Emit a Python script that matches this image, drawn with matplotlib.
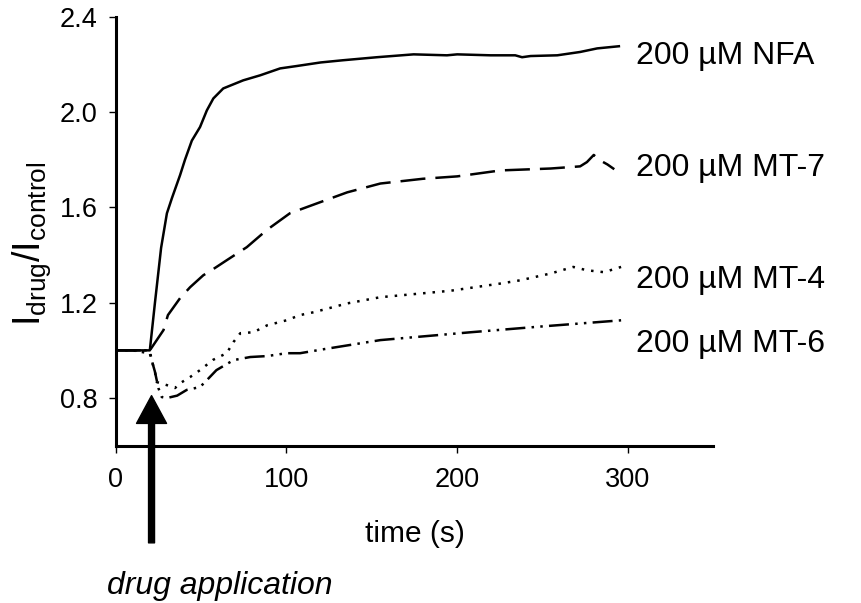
import numpy as np
import matplotlib
matplotlib.use('Agg')
import matplotlib.pyplot as plt

plt.rcParams['font.family'] = ['Liberation Sans', 'DejaVu Sans']
plt.rcParams['mathtext.fontset'] = 'custom'
plt.rcParams['mathtext.rm'] = 'Liberation Sans'
plt.rcParams['mathtext.it'] = 'Liberation Sans:italic'

# 数据
t_nfa = [0, 10, 20, 23, 26.6, 30, 33, 37.7, 40.6, 44.6, 49.4, 53.4, 57.2, 63, 74.7, 84.6,
         96.3, 106, 120, 132.7, 153, 174.5, 194, 200, 219.6, 234, 238, 243, 258.6, 272, 282, 294.7]
y_nfa = [1.0, 1.0, 1.0, 1.2, 1.43, 1.575, 1.64, 1.735, 1.80, 1.88, 1.937, 2.007, 2.057, 2.099, 2.133, 2.154,
         2.183, 2.193, 2.208, 2.217, 2.23, 2.242, 2.238, 2.242, 2.238, 2.238, 2.23, 2.235, 2.238, 2.252, 2.267, 2.276]

t_mt7 = [0, 10, 20, 28, 30.6, 37.7, 43.6, 51.3, 58, 65, 76.8, 88.5, 102, 118, 135.6, 155, 180, 200,
         225.4, 254.7, 272, 276, 280, 283, 288, 292]
y_mt7 = [1.0, 1.0, 1.0, 1.085, 1.148, 1.219, 1.265, 1.315, 1.345, 1.378, 1.433, 1.505, 1.575, 1.617, 1.663, 1.70, 1.72, 1.73,
         1.755, 1.763, 1.772, 1.79, 1.82, 1.80, 1.78, 1.76]

t_mt4 = [0, 10, 20, 21, 23, 24, 30, 34.8, 37.7, 43.6, 49.4, 57, 65, 69, 73, 80.7, 88.7, 100, 108,
         116, 135.6, 155, 196, 225, 237, 255, 268, 276, 286, 296]
y_mt4 = [1.0, 1.0, 1.0, 0.96, 0.91, 0.867, 0.854, 0.842, 0.862, 0.888, 0.917, 0.96, 0.988, 1.035, 1.072, 1.076, 1.105, 1.126, 1.148,
         1.16, 1.197, 1.223, 1.25, 1.28, 1.294, 1.323, 1.35, 1.336, 1.328, 1.35]

t_mt6 = [0, 10, 20, 23, 25, 27, 30, 36, 41.6, 49.4, 53.4, 59, 69, 78.8, 88.7, 100, 108, 122, 155,
         208, 249, 296]
y_mt6 = [1.0, 1.0, 0.987, 0.91, 0.842, 0.804, 0.80, 0.81, 0.834, 0.846, 0.875, 0.917, 0.959, 0.972, 0.976, 0.988, 0.988, 1.005, 1.043,
         1.076, 1.10, 1.126]

labels = ['200 µM NFA', '200 µM MT-7', '200 µM MT-4', '200 µM MT-6']
label_y = [2.20, 1.731, 1.261, 0.992]

xticks = [0, 100, 200, 300]
yticks = [0.8, 1.2, 1.6, 2.0, 2.4]

fig = plt.figure(figsize=(8.62, 6.03), dpi=100)
ax = fig.add_axes([0.1342, 0.2609, 0.6933, 0.7114])

lw = 1.8
ax.plot(t_nfa, y_nfa, color='black', lw=lw)
ax.plot(t_mt7, y_mt7, color='black', lw=lw, linestyle=(0, (10, 4)))
ax.plot(t_mt4, y_mt4, color='black', lw=lw, linestyle=(0, (1, 2.8)))
ax.plot(t_mt6, y_mt6, color='black', lw=lw, linestyle=(0, (8, 2.5, 1, 2.5, 1, 2.5)))

for lab, yy in zip(labels, label_y):
    ax.text(305, yy, lab, fontsize=23, va='baseline', ha='left', clip_on=False)

ax.set_xlim(0, 350)
ax.set_ylim(0.6, 2.4)
ax.set_xticks(xticks)
ax.set_xticklabels([str(v) for v in xticks])
ax.set_yticks(yticks)
ax.set_yticklabels(['%.1f' % v for v in yticks])
ax.spines['top'].set_visible(False)
ax.spines['right'].set_visible(False)
ax.spines['left'].set_linewidth(2.2)
ax.spines['bottom'].set_linewidth(2.2)
ax.tick_params(axis='both', direction='out', length=5, width=1, labelsize=19.5)
ax.tick_params(axis='x', pad=10)
ax.tick_params(axis='y', pad=8)

ax.set_xlabel('time (s)', fontsize=21.5, labelpad=20)
ax.set_ylabel(r'$\mathregular{I_{drug}/I_{control}}$', fontsize=27)
ax.yaxis.set_label_coords(-0.105, 0.47)

# 给药箭头
ax.annotate('', xy=(21, 0.81), xycoords='data', xytext=(0, -106), textcoords='offset points',
            arrowprops=dict(facecolor='black', edgecolor='black', width=4.3, headwidth=21.6,
                            headlength=20, shrink=0), annotation_clip=False)
ax.annotate('drug application', xy=(21, 0.81), xycoords='data', xytext=(-32, -126),
            textcoords='offset points', fontsize=23, style='italic', ha='left', va='top',
            annotation_clip=False)

fig.savefig('out.png', dpi=100)
